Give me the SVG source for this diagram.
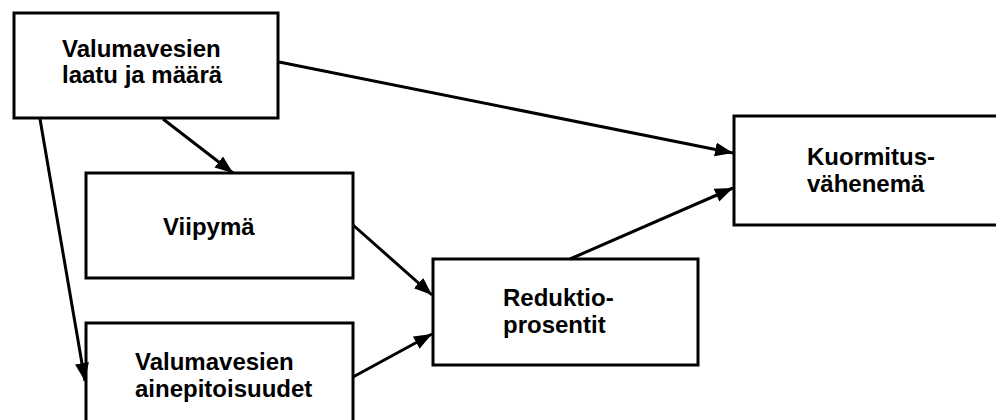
<svg xmlns="http://www.w3.org/2000/svg" width="996" height="420" viewBox="0 0 996 420">
  <defs>
    <style>
      .box { fill: #ffffff; stroke: #000000; stroke-width: 3; }
      .lbl { font-family: "Liberation Sans", Arial, sans-serif; font-weight: bold; font-size: 24px; fill: #000000; }
      .conn { stroke: #000000; stroke-width: 3; fill: none; marker-end: url(#arrow); }
    </style>
    <marker id="arrow" markerUnits="userSpaceOnUse" markerWidth="20" markerHeight="16" refX="18" refY="7" orient="auto">
      <path d="M0,0 L18,7 L0,14 Z" fill="#000000"/>
    </marker>
  </defs>
  <rect width="996" height="420" fill="#ffffff"/>

  <g id="n1">
    <rect class="box" x="14" y="13" width="264" height="105"/>
    <text class="lbl" x="62" y="57">Valumavesien</text>
    <text class="lbl" x="62" y="83">laatu ja määrä</text>
  </g>
  <g id="n2">
    <rect class="box" x="86" y="173" width="267" height="105"/>
    <text class="lbl" x="163" y="235">Viipymä</text>
  </g>
  <g id="n3">
    <rect class="box" x="86" y="323" width="267" height="110"/>
    <text class="lbl" x="135" y="370">Valumavesien</text>
    <text class="lbl" x="135" y="397">ainepitoisuudet</text>
  </g>
  <g id="n4">
    <rect class="box" x="433" y="259" width="265" height="106"/>
    <text class="lbl" x="503" y="306">Reduktio-</text>
    <text class="lbl" x="503" y="333">prosentit</text>
  </g>
  <g id="n5">
    <rect class="box" x="734" y="116" width="270" height="109"/>
    <text class="lbl" x="807" y="165">Kuormitus-</text>
    <text class="lbl" x="807" y="192">vähenemä</text>
  </g>

  <g id="connectors">
    <line class="conn" x1="279" y1="62" x2="733" y2="153"/>
    <line class="conn" x1="570" y1="259" x2="733" y2="188"/>
    <line class="conn" x1="163" y1="119" x2="233" y2="173"/>
    <line class="conn" x1="40" y1="119" x2="85" y2="381"/>
    <line class="conn" x1="353" y1="225" x2="432" y2="295"/>
    <line class="conn" x1="353" y1="377" x2="432" y2="334"/>
  </g>
</svg>
